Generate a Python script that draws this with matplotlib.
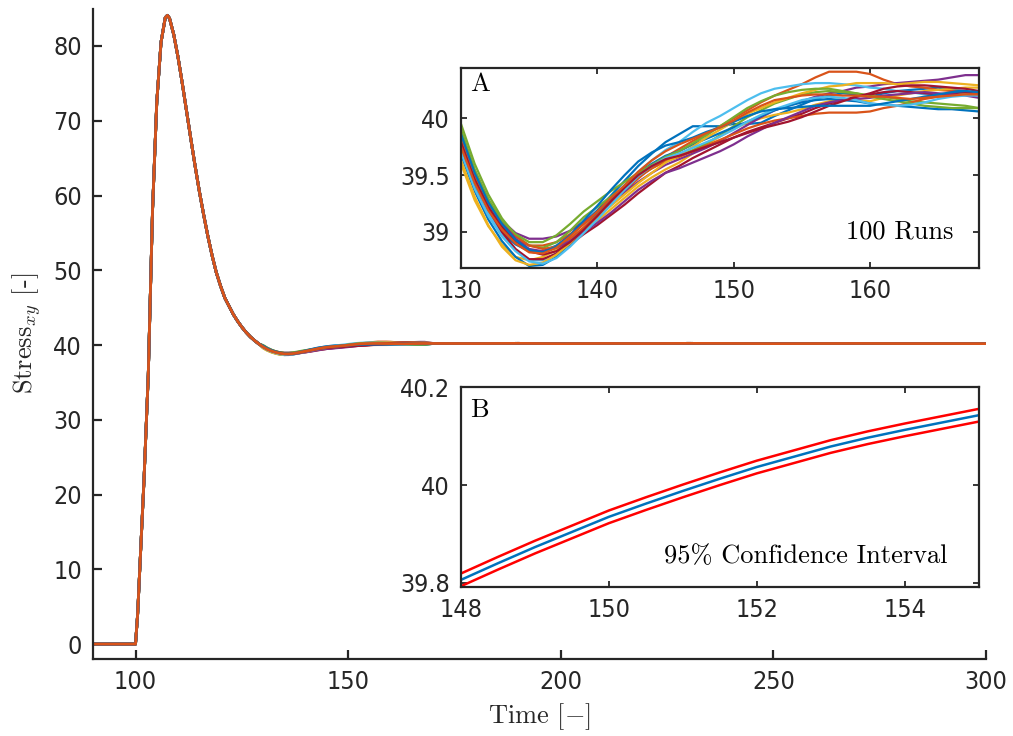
import os
import matplotlib
matplotlib.use("Agg")
import matplotlib.pyplot as plt
from matplotlib import font_manager as fm

# ---------------- data ----------------
# common transient (all runs coincide here)
RISE_T = [90, 100, 100.5, 101, 102, 103, 104, 105, 106, 107, 107.5, 108, 109, 110,
          111, 112, 113, 114, 115, 116, 117, 118, 119, 120, 121, 122, 123, 124,
          125, 126, 127, 128, 129]
RISE_V = [0, 0, 4, 10, 22, 36, 58, 72.5, 80.5, 83.8, 84.1, 83.7, 81.5, 78.5,
          75.0, 71.3, 67.6, 64.0, 60.6, 57.5, 54.6, 52.0, 49.7, 47.9, 46.3, 45.2, 44.1, 43.2,
          42.4, 41.7, 41.1, 40.6, 40.15]

# run-to-run section shown in inset A (t = 130 ... 168)
INSET_T = list(range(130, 169))
RUN_01 = [39.73, 39.41, 39.17, 39.00, 38.89, 38.83, 38.83, 38.88, 38.97, 39.08, 39.19, 39.32, 39.45,
          39.58, 39.69, 39.79, 39.86, 39.93, 39.93, 39.93, 39.95, 39.95, 39.96, 40.02, 40.07, 40.12,
          40.17, 40.20, 40.22, 40.21, 40.19, 40.22, 40.24, 40.25, 40.26, 40.27, 40.25, 40.24, 40.21]
RUN_02 = [39.81, 39.48, 39.22, 39.04, 38.93, 38.88, 38.88, 38.91, 38.98, 39.07, 39.16, 39.26, 39.36,
          39.47, 39.57, 39.66, 39.73, 39.80, 39.86, 39.93, 40.00, 40.07, 40.14, 40.20, 40.25, 40.30,
          40.36, 40.41, 40.41, 40.41, 40.39, 40.34, 40.30, 40.28, 40.27, 40.25, 40.24, 40.22, 40.20]
RUN_03 = [39.60, 39.28, 39.05, 38.89, 38.78, 38.75, 38.78, 38.84, 38.92, 39.01, 39.10, 39.20, 39.30,
          39.40, 39.48, 39.55, 39.61, 39.69, 39.77, 39.84, 39.91, 39.96, 40.00, 40.03, 40.05, 40.08,
          40.12, 40.15, 40.17, 40.16, 40.15, 40.18, 40.20, 40.22, 40.24, 40.25, 40.26, 40.27, 40.27]
RUN_04 = [39.83, 39.51, 39.27, 39.10, 38.99, 38.94, 38.94, 38.96, 39.01, 39.09, 39.17, 39.26, 39.35,
          39.44, 39.52, 39.59, 39.64, 39.69, 39.74, 39.80, 39.87, 39.94, 40.01, 40.07, 40.11, 40.15,
          40.19, 40.22, 40.24, 40.27, 40.28, 40.30, 40.31, 40.32, 40.33, 40.34, 40.36, 40.38, 40.38]
RUN_05 = [39.95, 39.60, 39.33, 39.12, 38.97, 38.88, 38.86, 38.91, 39.01, 39.13, 39.22, 39.31, 39.40,
          39.49, 39.56, 39.63, 39.67, 39.72, 39.78, 39.85, 39.93, 40.01, 40.07, 40.13, 40.17, 40.21,
          40.23, 40.24, 40.23, 40.22, 40.20, 40.19, 40.17, 40.15, 40.14, 40.13, 40.12, 40.11, 40.09]
RUN_06 = [39.76, 39.43, 39.17, 38.98, 38.84, 38.75, 38.75, 38.81, 38.91, 39.03, 39.15, 39.28, 39.41,
          39.53, 39.63, 39.72, 39.79, 39.88, 39.96, 40.02, 40.09, 40.16, 40.22, 40.26, 40.28, 40.30,
          40.31, 40.31, 40.30, 40.29, 40.27, 40.26, 40.24, 40.23, 40.21, 40.20, 40.21, 40.22, 40.23]
RUN_07 = [39.80, 39.46, 39.20, 39.00, 38.85, 38.76, 38.76, 38.81, 38.89, 38.98, 39.06, 39.15, 39.24,
          39.34, 39.43, 39.52, 39.58, 39.65, 39.71, 39.77, 39.83, 39.88, 39.92, 39.96, 40.00, 40.04,
          40.09, 40.13, 40.16, 40.19, 40.21, 40.23, 40.24, 40.23, 40.22, 40.21, 40.22, 40.23, 40.21]
RUN_08 = [39.68, 39.36, 39.11, 38.92, 38.78, 38.70, 38.71, 38.78, 38.90, 39.03, 39.16, 39.29, 39.41,
          39.52, 39.60, 39.67, 39.71, 39.77, 39.82, 39.87, 39.92, 39.97, 40.02, 40.07, 40.11, 40.14,
          40.16, 40.17, 40.16, 40.15, 40.13, 40.12, 40.11, 40.10, 40.09, 40.08, 40.08, 40.07, 40.06]
RUN_09 = [39.84, 39.50, 39.25, 39.08, 38.96, 38.88, 38.85, 38.87, 38.94, 39.04, 39.15, 39.27, 39.38,
          39.48, 39.56, 39.62, 39.66, 39.71, 39.76, 39.81, 39.86, 39.91, 39.95, 39.98, 40.00, 40.02,
          40.04, 40.05, 40.05, 40.05, 40.06, 40.09, 40.11, 40.14, 40.17, 40.19, 40.20, 40.21, 40.21]
RUN_10 = [39.63, 39.31, 39.06, 38.87, 38.75, 38.71, 38.73, 38.80, 38.90, 39.02, 39.13, 39.23, 39.33,
          39.43, 39.52, 39.61, 39.67, 39.75, 39.83, 39.90, 39.97, 40.04, 40.09, 40.14, 40.18, 40.22,
          40.25, 40.28, 40.29, 40.31, 40.31, 40.31, 40.30, 40.31, 40.32, 40.32, 40.31, 40.30, 40.29]
RUN_11 = [39.88, 39.54, 39.28, 39.08, 38.94, 38.85, 38.83, 38.86, 38.92, 39.00, 39.08, 39.17, 39.27,
          39.37, 39.45, 39.52, 39.56, 39.61, 39.66, 39.71, 39.77, 39.84, 39.90, 39.96, 40.01, 40.06,
          40.11, 40.14, 40.16, 40.17, 40.18, 40.20, 40.21, 40.22, 40.23, 40.22, 40.21, 40.20, 40.18]
RUN_12 = [39.90, 39.55, 39.29, 39.10, 38.98, 38.91, 38.91, 38.97, 39.07, 39.18, 39.27, 39.36, 39.44,
          39.52, 39.59, 39.66, 39.71, 39.78, 39.85, 39.93, 40.01, 40.09, 40.15, 40.20, 40.23, 40.25,
          40.26, 40.26, 40.24, 40.22, 40.19, 40.17, 40.15, 40.13, 40.11, 40.10, 40.09, 40.09, 40.09]
RUN_13 = [39.70, 39.38, 39.14, 38.96, 38.83, 38.74, 38.72, 38.77, 38.87, 38.99, 39.11, 39.24, 39.37,
          39.49, 39.58, 39.65, 39.69, 39.74, 39.79, 39.84, 39.90, 39.97, 40.03, 40.08, 40.12, 40.16,
          40.18, 40.19, 40.18, 40.16, 40.13, 40.12, 40.11, 40.12, 40.14, 40.17, 40.19, 40.20, 40.20]
RUN_14 = [39.78, 39.46, 39.22, 39.05, 38.92, 38.83, 38.80, 38.83, 38.91, 39.02, 39.14, 39.27, 39.39,
          39.50, 39.58, 39.64, 39.67, 39.71, 39.75, 39.79, 39.83, 39.87, 39.91, 39.94, 39.97, 40.01,
          40.06, 40.11, 40.15, 40.19, 40.22, 40.26, 40.28, 40.29, 40.29, 40.28, 40.27, 40.26, 40.24]
RUN_15 = [39.86, 39.52, 39.26, 39.07, 38.93, 38.84, 38.82, 38.87, 38.97, 39.10, 39.23, 39.37, 39.50,
          39.62, 39.70, 39.76, 39.79, 39.83, 39.88, 39.92, 39.97, 40.02, 40.06, 40.08, 40.09, 40.10,
          40.11, 40.11, 40.11, 40.11, 40.11, 40.13, 40.15, 40.17, 40.19, 40.21, 40.23, 40.24, 40.23]
RUN_16 = [39.75, 39.43, 39.19, 39.02, 38.90, 38.82, 38.81, 38.86, 38.96, 39.07, 39.18, 39.30, 39.41,
          39.53, 39.63, 39.71, 39.77, 39.82, 39.87, 39.92, 39.98, 40.05, 40.11, 40.16, 40.18, 40.20,
          40.21, 40.21, 40.20, 40.20, 40.19, 40.19, 40.18, 40.17, 40.18, 40.19, 40.20, 40.21, 40.21]
RUNS = [RUN_01, RUN_02, RUN_03, RUN_04, RUN_05, RUN_06, RUN_07, RUN_08,
        RUN_09, RUN_10, RUN_11, RUN_12, RUN_13, RUN_14, RUN_15, RUN_16]

# steady tail (t = 170 ... 300)
TAIL_T = [170, 180, 190, 200, 210, 220, 230, 240, 250, 260, 270, 280, 290, 300]
TAIL_V = [40.21, 40.20, 40.22, 40.19, 40.21, 40.20, 40.22, 40.21, 40.19, 40.20, 40.21, 40.20, 40.20, 40.19]

# inset B: ensemble mean with 95 % confidence interval
CI_T = [148, 148.5, 149, 149.5, 150, 150.5, 151, 151.5, 152, 152.5, 153, 153.5, 154, 154.5, 155]
CI_MEAN = [39.806, 39.840, 39.873, 39.904, 39.935, 39.962, 39.988, 40.013, 40.037, 40.058,
           40.079, 40.097, 40.113, 40.128, 40.143]
CI_UPPER = [39.819, 39.853, 39.886, 39.917, 39.948, 39.975, 40.001, 40.026, 40.050, 40.071,
            40.092, 40.110, 40.126, 40.141, 40.156]
CI_LOWER = [39.793, 39.827, 39.860, 39.891, 39.922, 39.949, 39.975, 40.000, 40.024, 40.045,
            40.066, 40.084, 40.100, 40.115, 40.130]

MAIN_XTICKS = [100, 150, 200, 250, 300]
MAIN_YTICKS = [0, 10, 20, 30, 40, 50, 60, 70, 80]
A_XTICKS = [130, 140, 150, 160]
A_YTICKS = [39, 39.5, 40]
A_YLABELS = ["39", "39.5", "40"]
B_XTICKS = [148, 150, 152, 154]
B_YTICKS = [39.8, 40, 40.2]
B_YLABELS = ["39.8", "40", "40.2"]

COLORS = ["#0072BD", "#D95319", "#EDB120", "#7E2F8E", "#77AC30", "#4DBEEE", "#A2142F"]

# ---------------- fonts ----------------
plt.rcParams["mathtext.fontset"] = "cm"
plt.rcParams["axes.formatter.use_mathtext"] = True
_cond = [f.fname for f in fm.fontManager.ttflist
         if os.path.basename(f.fname).lower() == "dejavusanscondensed.ttf"]
_narrow = [f.fname for f in fm.fontManager.ttflist
           if os.path.basename(f.fname).lower() == "liberationsansnarrow-regular.ttf"]
if _cond:
    TICK_FP = fm.FontProperties(fname=_cond[0], size=18)
elif _narrow:
    TICK_FP = fm.FontProperties(fname=_narrow[0], size=19)
else:
    TICK_FP = fm.FontProperties(family="DejaVu Sans", size=16)

INK = "#262626"
SERIF = "cmr10"

fig = plt.figure(figsize=(10.13, 7.36), dpi=100)

# ---------------- main axes ----------------
ax = fig.add_axes([0.0918, 0.1046, 0.8815, 0.8837])
for i, run in enumerate(RUNS):
    t = RISE_T + INSET_T + TAIL_T
    v = RISE_V + run + TAIL_V
    ax.plot(t, v, color=COLORS[i % 7], lw=2.0, solid_joinstyle="round")
ax.set_xlim(90, 300)
ax.set_ylim(-2, 85)
ax.spines["top"].set_visible(False)
ax.spines["right"].set_visible(False)
for s in ("left", "bottom"):
    ax.spines[s].set_linewidth(1.6)
    ax.spines[s].set_color(INK)
ax.tick_params(direction="in", length=6.5, width=1.6, color=INK, labelcolor=INK, pad=8)
ax.set_xticks(MAIN_XTICKS)
ax.set_xticklabels([str(v) for v in MAIN_XTICKS], fontproperties=TICK_FP)
ax.set_yticks(MAIN_YTICKS)
ax.set_yticklabels([str(v) for v in MAIN_YTICKS], fontproperties=TICK_FP)
ax.set_xlabel(r"Time $[-]$", fontfamily=SERIF, fontsize=19, color=INK, labelpad=5)
ax.set_ylabel(r"Stress$_{xy}$ [-]", fontfamily=SERIF, fontsize=19, color=INK, labelpad=7)


def style_inset(a):
    for s in a.spines.values():
        s.set_linewidth(1.6)
        s.set_color(INK)
    a.tick_params(direction="in", length=4, width=1.3, color=INK, labelcolor=INK,
                  top=True, right=True, pad=8)


# ---------------- inset A ----------------
axA = fig.add_axes([0.4551, 0.6355, 0.5114, 0.2717])
for i, run in enumerate(RUNS):
    axA.plot(INSET_T, run, color=COLORS[i % 7], lw=1.6, solid_joinstyle="round")
axA.set_xlim(130, 168)
axA.set_ylim(38.68, 40.44)
style_inset(axA)
axA.set_xticks(A_XTICKS)
axA.set_xticklabels([str(v) for v in A_XTICKS], fontproperties=TICK_FP)
axA.set_yticks(A_YTICKS)
axA.set_yticklabels(A_YLABELS, fontproperties=TICK_FP)
axA.text(0.0174, 0.888, "A", transform=axA.transAxes, fontfamily=SERIF, fontsize=19,
         color="black", va="baseline", ha="left")
axA.text(0.95, 0.15, "100 Runs", transform=axA.transAxes, fontfamily=SERIF, fontsize=19,
         color="black", va="baseline", ha="right")

# ---------------- inset B ----------------
axB = fig.add_axes([0.4551, 0.2029, 0.5109, 0.2707])
axB.plot(CI_T, CI_UPPER, color="#FF0000", lw=1.8)
axB.plot(CI_T, CI_LOWER, color="#FF0000", lw=1.8)
axB.plot(CI_T, CI_MEAN, color="#0072BD", lw=1.8)
axB.set_xlim(148, 155)
axB.set_ylim(39.792, 40.2)
style_inset(axB)
axB.set_xticks(B_XTICKS)
axB.set_xticklabels([str(v) for v in B_XTICKS], fontproperties=TICK_FP)
axB.set_yticks(B_YTICKS)
axB.set_yticklabels(B_YLABELS, fontproperties=TICK_FP)
axB.text(0.0174, 0.85, "B", transform=axB.transAxes, fontfamily=SERIF, fontsize=19,
         color="black", va="baseline", ha="left")
axB.text(0.94, 0.12, "95% Confidence Interval", transform=axB.transAxes, fontfamily=SERIF,
         fontsize=19, color="black", va="baseline", ha="right")

fig.savefig("out.png", dpi=100)
